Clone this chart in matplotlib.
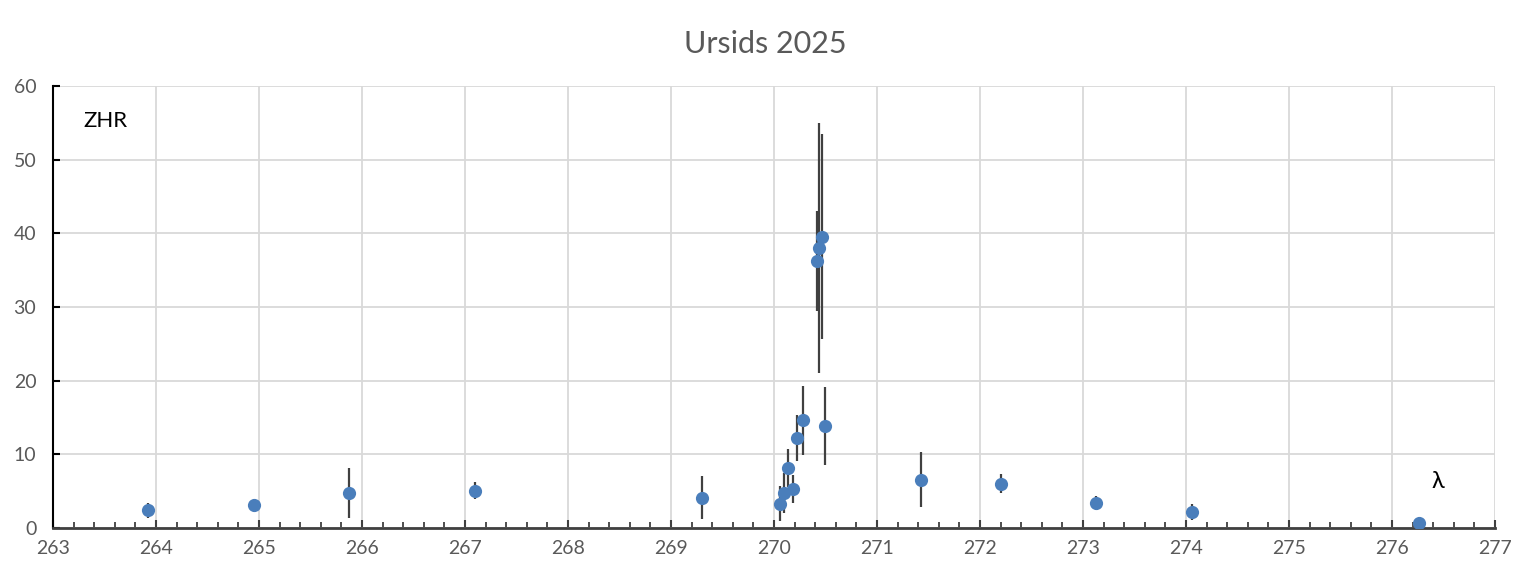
import matplotlib
matplotlib.use("Agg")
import matplotlib.pyplot as plt
from matplotlib.ticker import MultipleLocator

# solar longitude (deg), ZHR and error bar ends
lam = [263.92, 264.95, 265.87, 267.10, 269.30, 270.06, 270.10, 270.14, 270.18,
       270.22, 270.28, 270.42, 270.44, 270.47, 270.50, 271.43, 272.20, 273.13,
       274.06, 276.26]
zhr = [2.44, 3.1, 4.8, 5.0, 4.1, 3.26, 4.7, 8.2, 5.25,
       12.25, 14.65, 36.3, 38.0, 39.5, 13.9, 6.55, 6.0, 3.43,
       2.2, 0.73]
err_hi = [3.4, 4.0, 8.1, 6.2, 7.05, 5.7, 7.5, 10.7, 7.15,
          15.3, 19.3, 43.1, 55.0, 53.5, 19.1, 10.3, 7.3, 4.3,
          3.25, 0.73]
err_lo = [1.4, 2.2, 1.4, 3.9, 1.2, 1.0, 2.0, 5.6, 3.35,
          9.1, 9.9, 29.4, 21.1, 25.6, 8.55, 2.8, 4.7, 2.5,
          1.1, 0.73]

TEXT_GREY = "#595959"
BLUE = "#4a7ebb"

plt.rcParams["font.family"] = ["Lato", "DejaVu Sans"]

fig = plt.figure(figsize=(15.39, 5.82), dpi=100)
ax = fig.add_axes([0.0344, 0.0928, 0.9370, 0.7594])

yerr = [[z - lo for z, lo in zip(zhr, err_lo)],
        [hi - z for z, hi in zip(zhr, err_hi)]]
ax.errorbar(lam, zhr, yerr=yerr, fmt="none", ecolor="#404040",
            elinewidth=1.6, capsize=0, zorder=3)
ax.plot(lam, zhr, "o", color=BLUE, markersize=9.5, markeredgewidth=0, zorder=4)

ax.set_xlim(263, 277)
ax.set_ylim(0, 60)
ax.xaxis.set_major_locator(MultipleLocator(1))
ax.xaxis.set_minor_locator(MultipleLocator(0.2))
ax.yaxis.set_major_locator(MultipleLocator(10))
ax.grid(True, which="major", color="#d9d9d9", linewidth=1.3, zorder=0)
ax.set_axisbelow(True)

for side in ("top", "right"):
    ax.spines[side].set_visible(False)
ax.spines["left"].set_color("black")
ax.spines["left"].set_linewidth(1.5)
ax.spines["bottom"].set_color("#404040")
ax.spines["bottom"].set_linewidth(2)

ax.tick_params(axis="x", which="major", direction="in", length=6, width=1.5,
               color="#404040", labelsize=14, labelcolor=TEXT_GREY, pad=9)
ax.tick_params(axis="x", which="minor", direction="in", length=4, width=1.3,
               color="#404040")
ax.tick_params(axis="y", which="major", direction="in", length=5, width=1.5,
               color="black", labelsize=14, labelcolor=TEXT_GREY, pad=12)

ax.text(263.3, 55.2, "ZHR", fontsize=16, color="black", va="center")
ax.text(276.38, 6.3, "λ", fontsize=17, color="black", va="center")

fig.text(0.497, 0.924, "Ursids 2025", fontsize=22, color=TEXT_GREY,
         ha="center", va="center")

fig.savefig("out.png", dpi=100)
